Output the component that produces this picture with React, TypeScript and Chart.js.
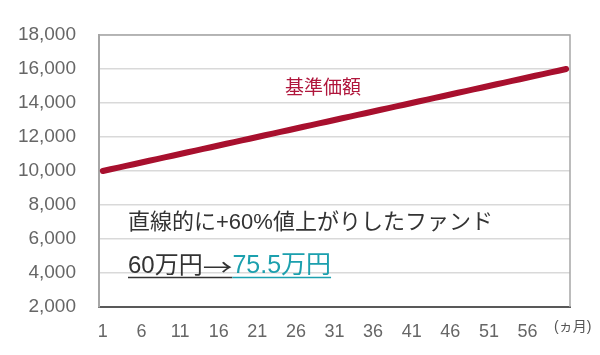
import React, { useEffect, useRef } from "react";
import { Chart, registerables } from "chart.js";

Chart.register(...registerables);

const months: number[] = [
  1, 2, 3, 4, 5, 6, 7, 8, 9, 10, 11, 12, 13, 14, 15, 16, 17, 18, 19, 20,
  21, 22, 23, 24, 25, 26, 27, 28, 29, 30, 31, 32, 33, 34, 35, 36, 37, 38, 39, 40,
  41, 42, 43, 44, 45, 46, 47, 48, 49, 50, 51, 52, 53, 54, 55, 56, 57, 58, 59, 60, 61,
];

const navValues: number[] = [
  10000, 10100, 10200, 10300, 10400, 10500, 10600, 10700, 10800, 10900,
  11000, 11100, 11200, 11300, 11400, 11500, 11600, 11700, 11800, 11900,
  12000, 12100, 12200, 12300, 12400, 12500, 12600, 12700, 12800, 12900,
  13000, 13100, 13200, 13300, 13400, 13500, 13600, 13700, 13800, 13900,
  14000, 14100, 14200, 14300, 14400, 14500, 14600, 14700, 14800, 14900,
  15000, 15100, 15200, 15300, 15400, 15500, 15600, 15700, 15800, 15900,
  16000,
];

const yMin = 2000;
const yMax = 18000;
const yStep = 2000;
const xLabelEvery = 5;

const seriesName = "基準価額";
const noteLine1 = "直線的に+60%値上がりしたファンド";
const noteLine2a = "60万円";
const noteArrow = "→";
const noteLine2b = "75.5万円";
const unitLabel = "(ヵ月)";

const FONT = "'Liberation Sans', 'Noto Sans CJK JP', sans-serif";
const CJK = "'Noto Sans CJK JP', sans-serif";

const overlayPlugin = {
  id: "overlay",
  afterDraw(chart: any) {
    const ctx = chart.ctx;
    const ca = chart.chartArea;
    ctx.save();
    // frame top/right
    ctx.strokeStyle = "#a6a6a6";
    ctx.lineWidth = 1.5;
    ctx.beginPath();
    ctx.moveTo(ca.left, ca.top);
    ctx.lineTo(ca.right, ca.top);
    ctx.lineTo(ca.right, ca.bottom);
    ctx.stroke();

    // series label
    ctx.fillStyle = "#b0163c";
    ctx.font = `19px ${FONT}`;
    ctx.textBaseline = "middle";
    ctx.textAlign = "left";
    ctx.fillText(seriesName, 285, 89);

    // notes
    ctx.fillStyle = "#333333";
    ctx.font = `22px ${FONT}`;
    ctx.fillText(noteLine1, 128, 223);

    const x0 = 128;
    ctx.font = `24px ${FONT}`;
    const w1 = ctx.measureText(noteLine2a).width;
    ctx.fillStyle = "#333333";
    ctx.fillText(noteLine2a, x0, 266);
    // stretched arrow
    ctx.font = `22px ${CJK}`;
    const stretch = 1.35;
    const wa = ctx.measureText(noteArrow).width * stretch;
    ctx.save();
    ctx.translate(x0 + w1, 267);
    ctx.scale(stretch, 1);
    ctx.fillText(noteArrow, 0, 0);
    ctx.restore();
    ctx.font = `25px ${FONT}`;
    const w2 = ctx.measureText(noteLine2b).width;
    ctx.fillStyle = "#1ca0ae";
    ctx.fillText(noteLine2b, x0 + w1 + wa, 266);
    ctx.lineWidth = 1.5;
    ctx.strokeStyle = "#333333";
    ctx.beginPath();
    ctx.moveTo(x0, 277.5);
    ctx.lineTo(x0 + w1 + wa, 277.5);
    ctx.stroke();
    ctx.strokeStyle = "#1ca0ae";
    ctx.beginPath();
    ctx.moveTo(x0 + w1 + wa, 277.5);
    ctx.lineTo(x0 + w1 + wa + w2, 277.5);
    ctx.stroke();

    // unit
    ctx.fillStyle = "#555555";
    ctx.font = `14px ${FONT}`;
    ctx.fillText(unitLabel, 554, 327);
    ctx.restore();
  },
};

export default function App() {
  const ref = useRef<HTMLCanvasElement | null>(null);
  useEffect(() => {
    document.body.style.margin = "0";
    if (!ref.current) return;
    const chart = new Chart(ref.current, {
      type: "line",
      data: {
        labels: months,
        datasets: [
          {
            label: seriesName,
            data: navValues,
            borderColor: "#a8102e",
            borderWidth: 6,
            pointRadius: 0,
            tension: 0,
            borderCapStyle: "round",
          },
        ],
      },
      options: {
        animation: false,
        responsive: false,
        layout: { padding: { top: 35, right: 30, left: 0, bottom: 0 } },
        plugins: { legend: { display: false }, tooltip: { enabled: false } },
        scales: {
          x: {
            offset: true,
            grid: { display: false, drawTicks: false },
            border: { display: true, color: "#595959", width: 2 },
            afterFit: (s: any) => {
              s.height = 48;
            },
            ticks: {
              autoSkip: false,
              maxRotation: 0,
              padding: 14,
              color: "#666666",
              font: { family: FONT, size: 18 },
              callback: (_v: any, i: number) =>
                i % xLabelEvery === 0 && i < months.length - 1 ? String(months[i]) : "",
            },
          },
          y: {
            min: yMin,
            max: yMax,
            afterFit: (s: any) => {
              s.width = 99;
            },
            grid: { color: "#d9d9d9", lineWidth: 1.5, drawTicks: false },
            border: { display: true, color: "#a6a6a6", width: 2 },
            ticks: {
              stepSize: yStep,
              padding: 23,
              color: "#666666",
              font: { family: FONT, size: 19 },
              callback: (v: any) => Number(v).toLocaleString("en-US"),
            },
          },
        },
      },
      plugins: [overlayPlugin],
    });
    return () => chart.destroy();
  }, []);
  return (
    <div style={{ width: 600, height: 355 }}>
      <canvas ref={ref} width={600} height={355} />
    </div>
  );
}
